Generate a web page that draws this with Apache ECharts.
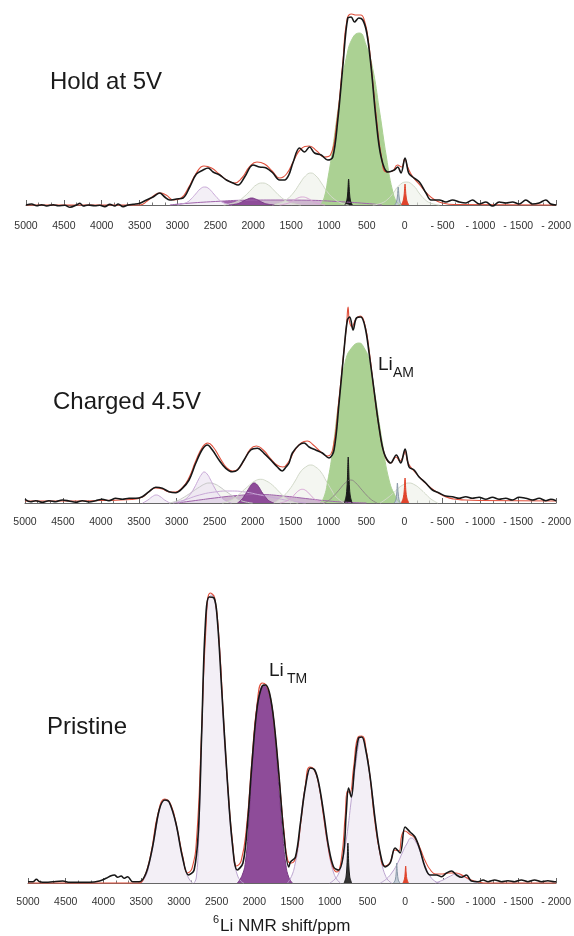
<!DOCTYPE html>
<html>
<head>
<meta charset="utf-8" />
<title>6Li NMR fits</title>
<script src="https://cdn.jsdelivr.net/npm/echarts@6/dist/echarts.min.js"></script>
<style>html,body{margin:0;padding:0;background:#fff;}</style>
</head>
<body>
<div id="main" style="width:574px;height:936px;"></div>
<script type="text/javascript">
// panel names and x tick labels
var panelTitles = ['Hold at 5V', 'Charged 4.5V', 'Pristine'];
var xTickValues = [5000, 4500, 4000, 3500, 3000, 2500, 2000, 1500, 1000, 500, 0, -500, -1000, -1500, -2000];
var xTickLabels = ['5000', '4500', '4000', '3500', '3000', '2500', '2000', '1500', '1000', '500', '0', '- 500', '- 1000', '- 1500', '- 2000'];

// ---------- Hold at 5V : [ppm, intensity] ----------
var holdExp = [[5000,0],[4925,1],[4859,-0.7],[4793,0.3],[4727,-1],[4640,0.3],[4574,-0.7],[4486,-0.3],[4420,-2.3],[4332,0],[4288,1.7],[4244,-1],[4178,0],[4090,-0.7],[4025,-0.3],[3959,-1.7],[3893,0.7],[3827,-1],[3783,1],[3717,-1.7],[3651,0],[3585,0.7],[3497,1.7],[3409,5],[3322,8],[3234,12],[3168,8],[3102,5],[3014,6],[2926,7],[2838,18],[2750,31],[2662,35],[2596,37],[2530,33],[2443,30],[2354,25],[2267,22],[2200,20],[2113,28],[2003,40],[1915,38],[1827,37],[1740,32],[1652,25],[1586,25],[1530,30],[1476,42],[1388,57],[1322,53],[1256,58],[1190,52],[1102,50],[1015,45],[949,48],[883,85],[817,138],[751,187],[707,188],[663,183],[606,187],[553,185],[500,172],[443,138],[377,85],[311,48],[223,33],[136,35],[92,38],[48,32],[-5,47],[-53,32],[-106,28],[-194,23],[-282,12],[-348,5],[-457,5],[-545,3],[-633,5],[-721,3],[-809,2],[-896,5],[-985,1],[-1073,3],[-1161,-1],[-1248,3],[-1336,2],[-1424,3],[-1512,1],[-1600,5],[-1688,1],[-1776,2],[-1864,5],[-1930,1],[-2000,0]];
var holdFit = [[5000,0],[3500,0],[3400,4],[3300,10],[3230,12],[3150,10],[3050,5],[2950,7],[2850,18],[2750,32],[2650,39],[2550,37],[2450,31],[2350,25],[2250,22],[2150,27],[2050,38],[1950,43],[1850,41],[1750,34],[1650,27],[1560,31],[1460,45],[1370,56],[1260,59],[1160,54],[1060,48],[980,50],[900,80],[820,140],[760,186],[700,191],[640,190],[580,190],[530,184],[480,165],[430,130],[370,85],[310,50],[240,33],[160,34],[95,40],[40,38],[0,46],[-40,38],[-100,29],[-200,20],[-300,11],[-400,5],[-500,2],[-650,0.5],[-2000,0]];
var holdAM = [[1110,0],[1060,8],[1010,28],[953,55],[861,105],[768,148],[680,168],[597,172],[510,160],[426,138],[334,95],[241,48],[162,15],[96,2],[40,0]];
var holdBroad1 = [[1750,0],[1650,2],[1550,6],[1460,13],[1380,22],[1310,29],[1240,32],[1170,29],[1100,22],[1020,13],[930,6],[840,2],[740,0]];
var holdBroad2 = [[2390,0],[2290,1.5],[2200,4],[2110,9],[2030,15],[1960,20],[1880,22],[1800,20],[1730,15],[1650,9],[1560,4],[1470,1.5],[1370,0]];
var holdBroad3 = [[420,0],[300,2],[220,6],[150,12],[80,19],[-20,23],[-120,19],[-190,12],[-260,6],[-340,2],[-460,0]];
var holdLav = [[3000,0],[2880,2.5],[2820,6],[2760,11],[2700,16],[2640,18],[2580,16],[2520,11],[2460,6],[2400,2.5],[2280,0]];
var holdPink = [[1650,0],[1530,2],[1470,4.5],[1410,7],[1350,8],[1290,7],[1230,4.5],[1170,2],[1050,0]];
var holdTM = [[2320,0],[2220,1],[2170,2.3],[2120,4.3],[2070,6],[2020,7],[1970,6],[1920,4.3],[1870,2.3],[1820,1],[1720,0]];
var holdBand = [[3100,0],[2900,1.5],[2500,3.5],[2100,4.8],[1700,5],[1300,4.8],[900,3.5],[500,1.5],[300,0]];
var holdSpikeK = [[790,0],[765,4],[752,12],[740,26],[728,12],[715,4],[690,0]];
var holdSpikeG = [[130,0],[108,3],[95,9],[85,18],[75,9],[62,3],[40,0]];
var holdSpikeR = [[45,0],[20,4],[7,10],[-5,21],[-17,10],[-30,4],[-55,0]];

// ---------- Charged 4.5V ----------
var chgExp = [[5000,3.7],[4925,1.3],[4859,2.3],[4771,0.7],[4684,2.3],[4596,1.3],[4508,3],[4420,2],[4332,0.7],[4244,2.3],[4156,1],[4068,2.3],[3981,3.7],[3893,2.3],[3805,4.7],[3717,3.7],[3629,4.7],[3541,4.7],[3454,6.3],[3365,11.3],[3277,15.7],[3190,14.7],[3102,11.3],[3014,10.3],[2926,14.7],[2838,23],[2750,39.7],[2662,53.7],[2596,58],[2530,53],[2443,43],[2354,34.7],[2267,31.3],[2200,33],[2113,43],[2025,53],[1937,54.7],[1849,49.7],[1761,43],[1674,36],[1610,32],[1560,36],[1520,40],[1476,50],[1388,58],[1322,60],[1256,56],[1168,53],[1081,50],[993,45],[927,53],[861,100],[795,153],[751,183],[720,186],[676,173],[632,185],[575,186],[518,176],[465,150],[400,113],[334,76],[268,50],[180,40],[106,48],[48,40],[-9,54],[-62,36],[-128,33],[-194,26],[-282,20],[-370,13],[-457,10],[-545,7],[-633,6.3],[-721,4.7],[-809,6.3],[-896,4.7],[-985,5.7],[-1073,3.7],[-1161,5.7],[-1248,3.7],[-1336,4.7],[-1424,3],[-1512,5.7],[-1600,4.7],[-1688,3],[-1776,4.7],[-1864,2.3],[-1930,3.7],[-2000,2.3]];
var chgFit = [[5000,2],[4500,2],[4000,2.5],[3600,3.5],[3450,6],[3370,11],[3280,15],[3190,14],[3100,11],[3020,11],[2930,15],[2840,25],[2750,42],[2660,56],[2590,60],[2520,56],[2430,45],[2340,35],[2260,32],[2190,34],[2110,43],[2030,54],[1950,57],[1860,53],[1770,45],[1680,38],[1600,36],[1520,42],[1450,52],[1360,60],[1280,62],[1200,58],[1100,51],[1010,47],[940,55],[870,98],[800,150],[760,180],[742,196],[725,182],[690,176],[640,184],[580,187],[520,178],[460,150],[400,112],[330,74],[260,48],[180,40],[110,46],[60,42],[10,48],[-8,52],[-50,40],[-150,30],[-250,22],[-350,15],[-450,10],[-550,6],[-650,4],[-800,3],[-1000,2.5],[-2000,2]];
var chgAM = [[1110,0],[1059,6],[1010,22],[949,50],[861,103],[773,143],[685,156],[597,160],[530,155],[465,143],[377,103],[289,60],[202,23],[114,6],[60,0]];
var chgBroad1 = [[1720,0],[1608,6],[1520,13],[1440,22],[1370,31],[1300,36],[1234,38],[1170,36],[1100,31],[1030,22],[960,13],[900,6],[790,0]];
var chgBroad2 = [[2400,0],[2310,2],[2220,6],[2130,12],[2040,18],[1970,22],[1893,23.7],[1820,22],[1740,18],[1660,12],[1580,6],[1500,2],[1400,0]];
var chgBroad3 = [[320,0],[240,4],[160,9],[90,14],[20,18],[-60,20],[-140,18],[-210,14],[-280,9],[-350,4],[-440,0]];
var chgGrey700 = [[1060,0],[990,3],[920,8],[850,14],[780,20],[707,23],[640,20],[570,14],[500,8],[430,3],[360,0]];
var chgGrey2574 = [[3100,0],[3000,2],[2900,6],[2800,11],[2700,16],[2630,19],[2574,20],[2500,19],[2430,16],[2340,11],[2240,6],[2140,2],[2000,0]];
var chgPink = [[1640,0],[1550,2],[1490,5],[1440,9],[1390,12.5],[1344,13.7],[1300,12.5],[1250,9],[1200,5],[1140,2],[1050,0]];
var chgLav = [[2980,0],[2900,3],[2830,8],[2770,15],[2710,24],[2670,29],[2640,31],[2600,29],[2560,24],[2500,15],[2440,8],[2370,3],[2280,0]];
var chgLavBroad = [[3050,0],[2900,3],[2700,8],[2500,11],[2300,12],[2100,11],[1900,8],[1700,5],[1500,2],[1300,0]];
var chgLav3270 = [[3450,0],[3380,3],[3320,6.5],[3270,8],[3220,6.5],[3160,3],[3090,0]];
var chgTM = [[2200,0],[2150,3],[2110,7],[2070,12],[2030,17],[2000,19.5],[1981,20],[1950,19],[1910,15],[1870,10],[1820,5],[1780,2],[1720,0]];
var chgBand = [[3000,0],[2800,2],[2500,5],[2200,7.5],[1900,8.5],[1600,7],[1300,4.5],[1000,2],[700,0.5],[500,0]];
var chgSpikeK = [[790,0],[765,8],[752,22],[740,46],[728,22],[715,8],[690,0]];
var chgSpikeG = [[135,0],[112,3],[100,10],[92,20],[82,10],[70,3],[50,0]];
var chgSpikeR = [[40,0],[15,5],[2,12],[-9,25],[-20,12],[-33,5],[-58,0]];

// ---------- Pristine ----------
var priExp = [[5000,1.3],[4934,1.3],[4889,3.7],[4845,1.3],[4757,0.7],[4670,1.3],[4538,2],[4449,0.7],[4317,0.7],[4185,0.7],[4053,2],[3965,4.7],[3899,7.3],[3855,8],[3811,5.7],[3766,7],[3723,4.7],[3679,6.3],[3613,1.3],[3525,1.3],[3436,9.7],[3349,36],[3261,73],[3185,83],[3129,81],[3040,60],[2953,26],[2874,8],[2798,13],[2741,53],[2697,153],[2653,253],[2600,286],[2534,285],[2490,263],[2432,193],[2358,103],[2292,40],[2226,13],[2151,20],[2094,56],[2028,123],[1962,176],[1896,197],[1851,198],[1799,190],[1742,163],[1676,110],[1610,50],[1544,16],[1521,21],[1455,26],[1389,60],[1323,96],[1257,115],[1200,113],[1147,100],[1081,70],[1015,36],[949,16],[883,13],[817,30],[782,70],[751,95],[715,86],[672,116],[619,145],[575,146],[523,133],[465,106],[398,63],[332,30],[266,16],[200,20],[134,35],[68,30],[2,56],[-64,51],[-130,46],[-196,33],[-262,16],[-328,8],[-415,8],[-481,6.3],[-547,10],[-613,12],[-679,8],[-745,5.7],[-811,8],[-877,2],[-966,1.3],[-1032,3],[-1098,1.3],[-1186,3],[-1274,1.3],[-1362,2.3],[-1450,1.3],[-1538,3],[-1626,1.3],[-1714,3],[-1802,1.3],[-1890,2.3],[-1979,1.3],[-2000,1.3]];
var priFit = [[5000,0],[3550,0],[3475,3],[3375,28],[3275,70],[3185,84],[3105,78],[3025,55],[2945,25],[2885,10],[2825,15],[2765,45],[2705,140],[2645,250],[2585,290],[2525,285],[2465,240],[2405,160],[2345,90],[2285,38],[2235,17],[2175,22],[2105,55],[2035,120],[1965,178],[1895,200],[1845,198],[1785,185],[1725,150],[1665,100],[1605,50],[1555,22],[1505,20],[1445,28],[1385,60],[1325,97],[1265,116],[1205,113],[1145,98],[1085,68],[1025,38],[965,17],[905,11],[845,25],[795,68],[765,92],[735,90],[685,115],[625,146],[575,147],[515,132],[465,105],[405,63],[335,30],[275,17],[205,20],[135,33],[85,32],[45,48],[5,52],[-55,49],[-125,45],[-195,35],[-265,22],[-335,13],[-405,9],[-495,9],[-575,10],[-675,10],[-775,7],[-875,3],[-975,1],[-1075,0],[-2000,0]];
var priLav3180 = [[3500,0],[3434,8],[3390,20],[3347,36],[3300,56],[3259,73],[3220,81],[3184,83],[3150,82],[3127,80],[3080,70],[3039,58],[2990,40],[2951,25],[2910,13],[2872,5],[2820,0]];
var priLav2560 = [[2800,0],[2770,5],[2740,40],[2720,90],[2696,150],[2675,205],[2652,250],[2625,278],[2599,286],[2565,288],[2533,284],[2510,275],[2490,262],[2460,235],[2432,193],[2400,145],[2358,100],[2320,60],[2292,38],[2260,20],[2225,8],[2180,2],[2140,0]];
var priTM = [[2225,0],[2160,8],[2115,23],[2075,60],[2028,118],[1975,170],[1925,192],[1875,198],[1825,193],[1785,183],[1745,162],[1705,125],[1665,85],[1625,48],[1585,20],[1545,6],[1495,0]];
var priLav1250 = [[1560,0],[1500,8],[1457,20],[1420,35],[1391,58],[1360,80],[1325,96],[1290,108],[1259,115],[1230,115],[1202,113],[1175,108],[1149,99],[1115,85],[1084,68],[1050,48],[1018,33],[985,20],[952,11],[910,4],[860,0]];
var priLav600 = [[1000,0],[930,4],[880,10],[840,20],[800,35],[760,55],[720,80],[680,105],[650,122],[620,138],[590,146],[560,145],[523,133],[495,120],[465,106],[430,85],[398,63],[365,44],[332,28],[300,16],[266,8],[230,3],[180,0]];
var priLav0 = [[330,0],[250,4],[170,11],[100,20],[40,30],[-20,39],[-80,45],[-140,41],[-200,31],[-260,18],[-320,8],[-390,2],[-460,0]];
var priLav700 = [[-400,0],[-500,3],[-600,7],[-680,9],[-760,7],[-860,3],[-960,0]];
var priSpikeK = [[810,0],[785,6],[772,18],[760,40],[748,18],[735,6],[710,0]];
var priSpikeG = [[155,0],[132,3],[120,10],[113,20],[104,10],[92,3],[70,0]];
var priSpikeR = [[30,0],[10,4],[2,9],[-6,17],[-14,9],[-22,4],[-42,0]];

// colours
var cExp = '#171717', cFit = '#e0503c';
var cAM = '#abd193', cTM = '#8e4c99', cTMline = '#7a3a86';
var cLavFill = '#f3eff6', cLavLine = '#bca5d0';
var cGreyFill = 'rgba(236,240,232,0.6)', cGreyLine = '#d2d9c9';
var cPurpleLine = '#c9a9d8', cBand = '#a064ab';

function sr(p, data, o) {
  var s = {
    type: 'line', xAxisIndex: p, yAxisIndex: p, data: data,
    smooth: o.smooth == null ? 0.5 : o.smooth, symbol: 'none', silent: true,
    lineStyle: { color: o.line, width: o.width || 1 },
    z: o.z || 2
  };
  if (o.fill) s.areaStyle = { color: o.fill, opacity: 1 };
  return s;
}

var series = [
  // hold at 5V
  sr(0, holdBand, { line: cBand, fill: cBand }),
  sr(0, holdBroad2, { line: cGreyLine, fill: cGreyFill }),
  sr(0, holdBroad1, { line: cGreyLine, fill: cGreyFill }),
  sr(0, holdBroad3, { line: cGreyLine, fill: cGreyFill }),
  sr(0, holdLav, { line: cPurpleLine, fill: cLavFill }),
  sr(0, holdPink, { line: '#d9a6d6' }),
  sr(0, holdTM, { line: cTMline, fill: cTM }),
  sr(0, holdAM, { line: cAM, fill: cAM }),
  sr(0, holdSpikeK, { line: '#1a1a1a', fill: '#1a1a1a', smooth: 0.3 }),
  sr(0, holdSpikeG, { line: '#8898a8', fill: '#c3ccd6', smooth: 0.3 }),
  sr(0, holdSpikeR, { line: '#e0442c', fill: '#e0442c', smooth: 0.3 }),
  sr(0, holdFit, { line: cFit, width: 1.1, z: 3 }),
  sr(0, holdExp, { line: cExp, width: 1.6, z: 4, smooth: 0.35 }),
  // charged 4.5V
  sr(1, chgBand, { line: cBand, fill: cBand }),
  sr(1, chgLav3270, { line: cPurpleLine, fill: cLavFill }),
  sr(1, chgLavBroad, { line: cPurpleLine }),
  sr(1, chgGrey2574, { line: '#c8c8c8', fill: cGreyFill }),
  sr(1, chgLav, { line: cPurpleLine, fill: 'rgba(236,228,242,0.7)' }),
  sr(1, chgBroad2, { line: cGreyLine, fill: cGreyFill }),
  sr(1, chgBroad1, { line: cGreyLine, fill: cGreyFill }),
  sr(1, chgBroad3, { line: cGreyLine, fill: cGreyFill }),
  sr(1, chgPink, { line: '#d9a6d6' }),
  sr(1, chgTM, { line: cTMline, fill: cTM }),
  sr(1, chgAM, { line: cAM, fill: cAM }),
  sr(1, chgGrey700, { line: '#8f8a86' }),
  sr(1, chgSpikeK, { line: '#1a1a1a', fill: '#1a1a1a', smooth: 0.3 }),
  sr(1, chgSpikeG, { line: '#8898a8', fill: '#c3ccd6', smooth: 0.3 }),
  sr(1, chgSpikeR, { line: '#e0442c', fill: '#e0442c', smooth: 0.3 }),
  sr(1, chgFit, { line: cFit, width: 1.1, z: 3 }),
  sr(1, chgExp, { line: cExp, width: 1.6, z: 4, smooth: 0.35 }),
  // pristine
  sr(2, priLav3180, { line: cLavLine, fill: cLavFill }),
  sr(2, priLav2560, { line: cLavLine, fill: cLavFill }),
  sr(2, priLav1250, { line: cLavLine, fill: cLavFill }),
  sr(2, priLav600, { line: cLavLine, fill: cLavFill }),
  sr(2, priLav0, { line: cLavLine, fill: cLavFill }),
  sr(2, priLav700, { line: cLavLine, fill: cLavFill }),
  sr(2, priTM, { line: cTMline, fill: cTM }),
  sr(2, priSpikeK, { line: '#1a1a1a', fill: '#333333', smooth: 0.3 }),
  sr(2, priSpikeG, { line: '#8898a8', fill: '#c3ccd6', smooth: 0.3 }),
  sr(2, priSpikeR, { line: '#e0442c', fill: '#e0442c', smooth: 0.3 }),
  sr(2, priFit, { line: cFit, width: 1.1, z: 3 }),
  sr(2, priExp, { line: cExp, width: 1.6, z: 4, smooth: 0.35 })
];

// grid placement and y ranges (baseline a few px above the axis line)
var grids = [
  { left: 26, right: 17, top: 10, bottom: 720 },
  { left: 25, right: 17, top: 290, bottom: 423 },
  { left: 28, right: 16, top: 580, bottom: 44 }
];
var yRanges = [[-11, 195], [-10, 213], [-9, 303]];
var labelMargins = [5, 4, 5];

var xAxes = [], yAxes = [];
for (var i = 0; i < 3; i++) {
  xAxes.push({
    gridIndex: i, type: 'value', inverse: true, min: -2000, max: 5000, interval: 500,
    axisLine: { lineStyle: { color: '#666', width: 1 } },
    axisTick: { inside: true, length: 5, lineStyle: { color: '#666' } },
    minorTick: { show: true, splitNumber: 3, length: 2.5, lineStyle: { color: '#777' } },
    splitLine: { show: false },
    axisLabel: {
      interval: 0, margin: labelMargins[i], fontSize: 10.5, color: '#333', fontFamily: 'Liberation Sans',
      formatter: function (v) { return xTickLabels[xTickValues.indexOf(v)]; }
    }
  });
  yAxes.push({ gridIndex: i, type: 'value', min: yRanges[i][0], max: yRanges[i][1], show: false });
}

var fontMain = '"Liberation Sans", Arial, sans-serif';
function txt(t, left, top, size) {
  return { type: 'text', left: left, top: top, silent: true,
    style: { text: t, fill: '#1a1a1a', font: size + 'px ' + fontMain } };
}

var option = {
  animation: false,
  backgroundColor: '#fff',
  grid: grids,
  xAxis: xAxes,
  yAxis: yAxes,
  series: series,
  graphic: [
    txt(panelTitles[0], 50, 70, 24),
    txt(panelTitles[1], 53, 390, 24),
    txt(panelTitles[2], 47, 715, 24),
    txt('Li', 378, 355, 19),
    txt('AM', 393, 366, 14),
    txt('Li', 269, 661, 19),
    txt('TM', 287, 672, 14),
    txt('6', 213, 914, 11),
    txt('Li NMR shift/ppm', 220, 918, 17)
  ]
};

var myChart = echarts.init(document.getElementById('main'));
myChart.setOption(option);
window.addEventListener('resize', myChart.resize);
</script>
</body>
</html>
